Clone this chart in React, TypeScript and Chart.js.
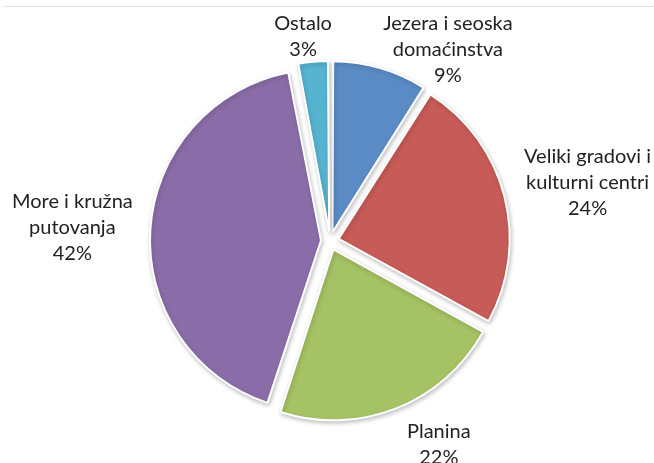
import React, { useEffect, useRef } from "react";
import { Chart, registerables } from "chart.js";

Chart.register(...registerables);

const categories: string[][] = [
  ["Jezera i seoska", "domaćinstva"],
  ["Veliki gradovi i", "kulturni centri"],
  ["Planina"],
  ["More i kružna", "putovanja"],
  ["Ostalo"],
];
const values: number[] = [9, 24, 22, 42, 3];
const colors: string[] = ["#5B8BC5", "#C75B57", "#A5C264", "#8A6DA8", "#56B4D0"];

// label placement relative to slice mid angle (degrees) and distance from the pie centre (px)
const labelAngleShift: number[] = [15.4, 1.7, -6.5, -0.7, -2.1];
const labelDistance: number[] = [225, 264, 231, 258, 206];

const RADIUS = 171;
const OFFSET = 36; // chart.js translates arcs by offset / 4
const FONT = "20px Lato";
const LINE_H = 26;

export default function App() {
  const ref = useRef<HTMLCanvasElement | null>(null);
  useEffect(() => {
    if (!ref.current) return;
    const total = values.reduce((a, b) => a + b, 0);

    const framePlugin = {
      id: "frame",
      beforeDraw(chart: any) {
        const ctx = chart.ctx;
        ctx.save();
        ctx.fillStyle = "#ffffff";
        ctx.fillRect(0, 0, chart.width, chart.height);
        ctx.strokeStyle = "#e4e4e4";
        ctx.lineWidth = 1;
        ctx.beginPath();
        ctx.moveTo(3, 6.5);
        ctx.lineTo(chart.width, 6.5);
        ctx.stroke();
        ctx.restore();
      },
    };

    const radiusFix = {
      id: "radiusFix",
      afterDatasetsUpdate(chart: any) {
        const meta = chart.getDatasetMeta(0);
        meta.data.forEach((el: any) => {
          const fix = 1 - Math.sin(Math.min(Math.PI, el.circumference || 0));
          el.outerRadius = RADIUS - (OFFSET / 4) * fix;
        });
      },
    };

    const shadowPlugin = {
      id: "shadow",
      beforeDatasetsDraw(chart: any) {
        const ctx = chart.ctx;
        ctx.save();
        ctx.shadowColor = "rgba(0,0,0,0.22)";
        ctx.shadowBlur = 4;
        ctx.shadowOffsetX = 1;
        ctx.shadowOffsetY = 2;
      },
      afterDatasetsDraw(chart: any) {
        chart.ctx.restore();
      },
    };

    const labelPlugin = {
      id: "outLabels",
      afterDraw(chart: any) {
        const ctx = chart.ctx;
        const meta = chart.getDatasetMeta(0);
        ctx.save();
        ctx.font = FONT;
        ctx.fillStyle = "#222222";
        ctx.textAlign = "center";
        ctx.textBaseline = "middle";
        meta.data.forEach((el: any, i: number) => {
          const mid = (el.startAngle + el.endAngle) / 2 + (labelAngleShift[i] * Math.PI) / 180;
          const cx = el.x + Math.cos(mid) * labelDistance[i];
          const cy = el.y + Math.sin(mid) * labelDistance[i];
          const lines = [...categories[i], Math.round((values[i] / total) * 100) + "%"];
          lines.forEach((t, k) => {
            ctx.fillText(t, cx, cy + (k - (lines.length - 1) / 2) * LINE_H);
          });
        });
        ctx.restore();
      },
    };

    const chart = new Chart(ref.current, {
      type: "pie",
      data: {
        labels: categories,
        datasets: [
          {
            data: values,
            backgroundColor: colors,
            borderColor: "#ffffff",
            borderWidth: 2,
            offset: OFFSET,
            hoverOffset: 0,
          } as any,
        ],
      },
      options: {
        responsive: false,
        animation: false,
        radius: RADIUS,
        layout: { padding: { left: 26, right: 20, top: 29, bottom: 10 } },
        plugins: { legend: { display: false }, tooltip: { enabled: false } },
        events: [],
      } as any,
      plugins: [framePlugin, radiusFix, shadowPlugin, labelPlugin],
    });
    return () => chart.destroy();
  }, []);

  return (
    <div style={{ position: "fixed", left: 0, top: 0, width: 654, height: 463 }}>
      <canvas ref={ref} width={654} height={463} style={{ display: "block" }} />
    </div>
  );
}
